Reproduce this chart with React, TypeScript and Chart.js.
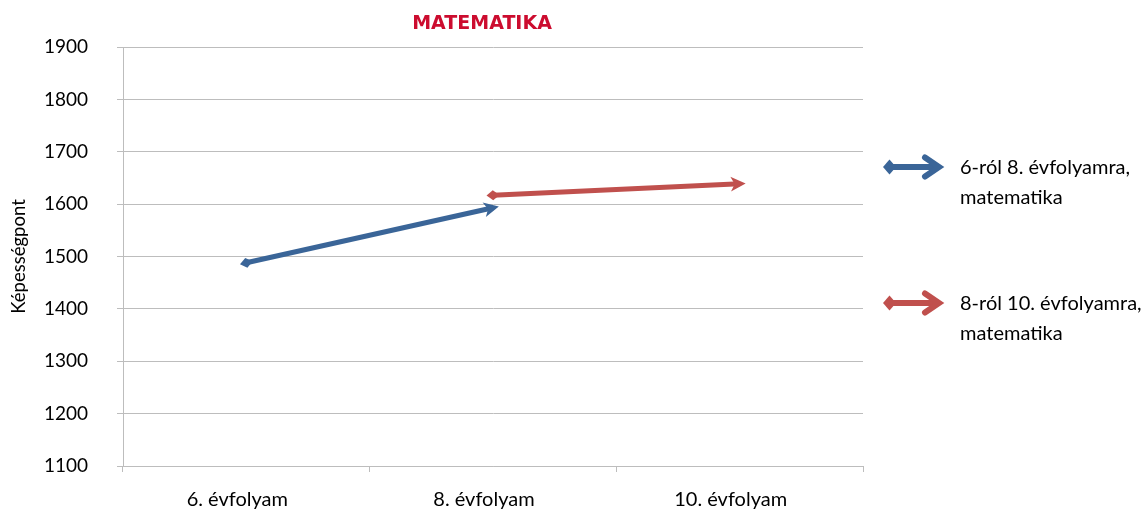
import React, { useEffect, useRef } from "react";
import { Chart, registerables } from "chart.js";

Chart.register(...registerables);

const chartTitle = "MATEMATIKA";
const yAxisTitle = "Képességpont";
const categories = ["6. évfolyam", "8. évfolyam", "10. évfolyam"];
const series6to8: (number | null)[] = [1488, 1593, null];
const series8to10: (number | null)[] = [null, 1617, 1639];
const seriesNames = ["6-ról 8. évfolyamra, matematika", "8-ról 10. évfolyamra, matematika"];
const legendLines = [
  ["6-ról 8. évfolyamra,", "matematika"],
  ["8-ról 10. évfolyamra,", "matematika"],
];
const yMin = 1100;
const yMax = 1900;
const yStep = 100;

const BLUE = "#3A6598";
const RED = "#C0504D";
const GRID = "#BDBDBD";
const TITLE_COLOR = "#CC0C2F";
const FONT = "Lato, 'Open Sans', sans-serif";

function drawHead(ctx: CanvasRenderingContext2D, x: number, y: number, ang: number) {
  ctx.save();
  ctx.translate(x, y);
  ctx.rotate(ang);
  ctx.beginPath();
  ctx.moveTo(6, 0);
  ctx.lineTo(-9, -7.5);
  ctx.lineTo(-5, 0);
  ctx.lineTo(-9, 7.5);
  ctx.closePath();
  ctx.fill();
  ctx.restore();
}

function drawDiamond(ctx: CanvasRenderingContext2D, x: number, y: number, ang: number) {
  ctx.save();
  ctx.translate(x, y);
  ctx.rotate(ang);
  ctx.beginPath();
  ctx.moveTo(-6.5, 0);
  ctx.lineTo(0, -5);
  ctx.lineTo(6.5, 0);
  ctx.lineTo(0, 5);
  ctx.closePath();
  ctx.fill();
  ctx.restore();
}

const arrowPlugin = {
  id: "arrowEnds",
  afterDatasetsDraw(chart: any) {
    const ctx = chart.ctx as CanvasRenderingContext2D;
    chart.data.datasets.forEach((ds: any, i: number) => {
      const meta = chart.getDatasetMeta(i);
      const pts = meta.data.filter((_p: any, j: number) => ds.data[j] != null);
      if (pts.length < 2) return;
      const a = pts[0];
      const b = pts[pts.length - 1];
      const ang = Math.atan2(b.y - a.y, b.x - a.x);
      ctx.save();
      ctx.fillStyle = ds.borderColor;
      drawHead(ctx, b.x, b.y, ang);
      drawDiamond(ctx, a.x, a.y, ang);
      ctx.restore();
    });
  },
};

const titlePlugin = {
  id: "customTitle",
  afterDraw(chart: any) {
    const ctx = chart.ctx as CanvasRenderingContext2D;
    const area = chart.chartArea;
    ctx.save();
    ctx.fillStyle = TITLE_COLOR;
    ctx.font = `bold 19px 'DejaVu Sans', sans-serif`;
    ctx.textAlign = "center";
    ctx.textBaseline = "middle";
    ctx.fillText(chartTitle, (area.left + area.right) / 2 - 11, 24);
    ctx.restore();
  },
};

const legendPlugin = {
  id: "sideLegend",
  afterDraw(chart: any) {
    const ctx = chart.ctx as CanvasRenderingContext2D;
    const area = chart.chartArea;
    const x0 = area.right + 20;
    const rows = [167, 303];
    chart.data.datasets.forEach((ds: any, i: number) => {
      const y = rows[i];
      const color = ds.borderColor;
      ctx.save();
      ctx.fillStyle = color;
      ctx.strokeStyle = color;
      ctx.beginPath();
      ctx.moveTo(x0, y);
      ctx.lineTo(x0 + 6.5, y - 7.5);
      ctx.lineTo(x0 + 13, y);
      ctx.lineTo(x0 + 6.5, y + 7.5);
      ctx.closePath();
      ctx.fill();
      ctx.lineWidth = 6;
      ctx.lineCap = "butt";
      ctx.beginPath();
      ctx.moveTo(x0 + 10, y);
      ctx.lineTo(x0 + 55, y);
      ctx.stroke();
      ctx.lineWidth = 6;
      ctx.lineJoin = "miter";
      ctx.lineCap = "round";
      ctx.beginPath();
      ctx.moveTo(x0 + 42, y - 9.5);
      ctx.lineTo(x0 + 56, y);
      ctx.lineTo(x0 + 42, y + 9.5);
      ctx.stroke();
      ctx.fillStyle = "#000";
      ctx.font = `20px ${FONT}`;
      ctx.textAlign = "left";
      ctx.textBaseline = "middle";
      legendLines[i].forEach((line, k) => {
        ctx.fillText(line, x0 + 77, y + 1 + k * 30);
      });
      ctx.restore();
    });
  },
};

export default function App() {
  const ref = useRef<HTMLCanvasElement | null>(null);
  useEffect(() => {
    if (!ref.current) return;
    const chart = new Chart(ref.current, {
      type: "line",
      data: {
        labels: categories,
        datasets: [
          {
            label: seriesNames[0],
            data: series6to8,
            borderColor: BLUE,
            backgroundColor: BLUE,
            borderWidth: 5,
            pointRadius: 0,
            spanGaps: false,
          },
          {
            label: seriesNames[1],
            data: series8to10,
            borderColor: RED,
            backgroundColor: RED,
            borderWidth: 5,
            pointRadius: 0,
            spanGaps: false,
          },
        ],
      },
      options: {
        responsive: false,
        animation: false,
        layout: { padding: { left: 4, right: 279, top: 47, bottom: 0 } },
        plugins: {
          legend: { display: false },
          tooltip: { enabled: false },
          title: { display: false, text: chartTitle },
        },
        scales: {
          x: {
            type: "category",
            offset: true,
            border: { color: GRID, width: 1 },
            grid: {
              offset: true,
              drawOnChartArea: false,
              drawTicks: true,
              tickLength: 6,
              color: GRID,
            },
            ticks: {
              color: "#000",
              font: { family: FONT, size: 20 },
              padding: 16,
              labelOffset: -9,
              maxRotation: 0,
            },
            afterFit: (scale: any) => {
              scale.height = 47;
            },
          },
          y: {
            min: yMin,
            max: yMax,
            border: { color: GRID, width: 1 },
            grid: { color: GRID, tickLength: 6 },
            ticks: {
              stepSize: yStep,
              color: "#000",
              font: { family: FONT, size: 19 },
              padding: 29,
              callback: (v: any) => String(v),
            },
            title: {
              display: true,
              text: yAxisTitle,
              color: "#000",
              font: { family: FONT, size: 18.5 },
              padding: { top: 4, bottom: 4 },
            },
            afterFit: (scale: any) => {
              scale.width = 119;
            },
          },
        },
      },
      plugins: [arrowPlugin, titlePlugin, legendPlugin],
    });
    return () => chart.destroy();
  }, []);
  return (
    <div style={{ position: "absolute", left: 0, top: 0, width: 1142, height: 513 }}>
      <canvas ref={ref} width={1142} height={513} />
    </div>
  );
}
